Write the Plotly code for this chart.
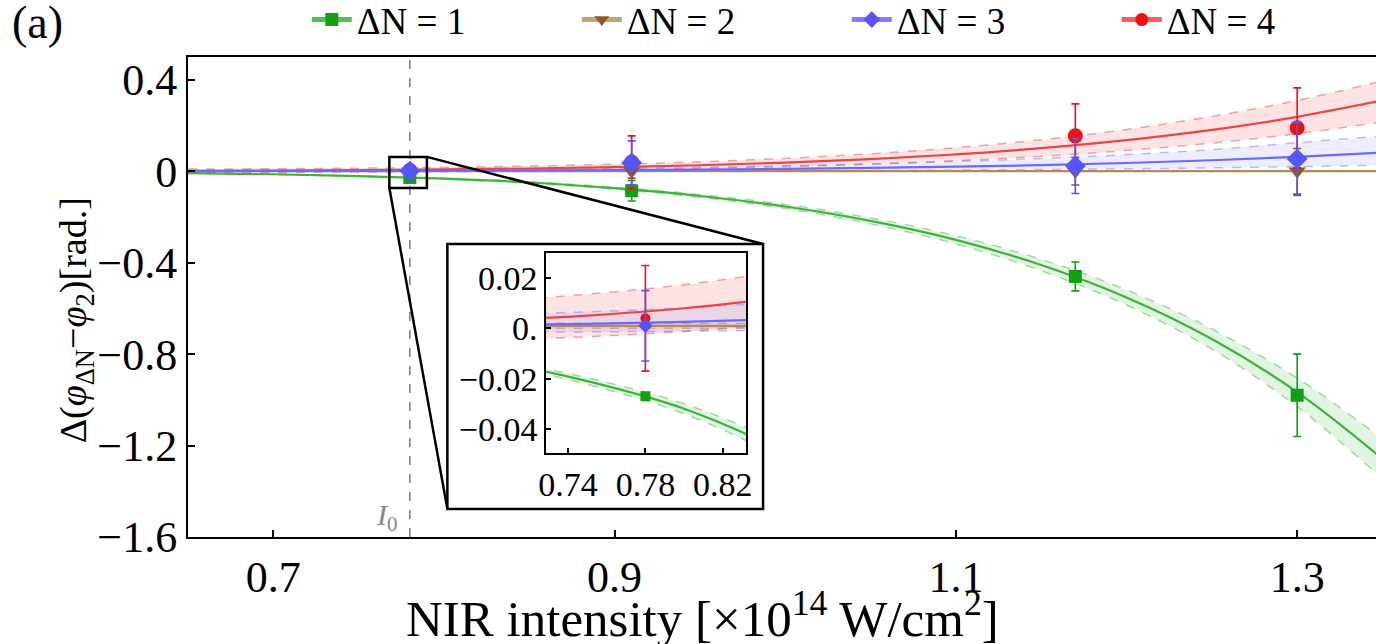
import plotly.graph_objects as go

# ---------------- data ----------------
x_fit = [0.65, 0.70, 0.75, 0.80, 0.85, 0.90, 0.95, 1.00, 1.05, 1.10, 1.15, 1.20, 1.25, 1.30, 1.35]

g_fit = [-0.008, -0.013, -0.021, -0.032, -0.049, -0.074, -0.108, -0.154, -0.217, -0.300, -0.410, -0.552, -0.734, -0.966, -1.258]
g_up  = [-0.0075, -0.0122, -0.0197, -0.030, -0.046, -0.0695, -0.1015, -0.145, -0.204, -0.282, -0.385, -0.519, -0.690, -0.905, -1.170]
g_lo  = [-0.0085, -0.0138, -0.0223, -0.034, -0.052, -0.0784, -0.1145, -0.163, -0.230, -0.318, -0.435, -0.585, -0.778, -1.030, -1.345]

b_fit = [0.001] * 15
b_up  = [0.002] * 15
b_lo  = [0.000] * 15

u_fit = [0.0010, 0.0013, 0.0018, 0.0026, 0.0037, 0.0053, 0.0075, 0.0105, 0.0146, 0.0200, 0.0271, 0.0363, 0.0482, 0.0633, 0.0822]
u_up  = [0.0050, 0.0056, 0.0066, 0.0082, 0.0104, 0.0136, 0.0180, 0.0240, 0.0322, 0.0430, 0.0560, 0.0730, 0.0950, 0.1250, 0.1550]
u_lo  = [-0.0017, -0.0015, -0.0014, -0.0011, -0.0007, -0.0001, 0.0006, 0.0017, 0.0031, 0.0050, 0.0075, 0.0107, 0.0149, 0.0202, 0.0268]

r_fit = [0.0019, 0.0031, 0.0051, 0.0080, 0.0122, 0.0182, 0.0265, 0.0380, 0.0535, 0.0740, 0.1010, 0.1360, 0.1810, 0.2380, 0.3100]
r_up  = [0.0095, 0.0110, 0.0136, 0.0174, 0.0229, 0.0307, 0.0415, 0.0564, 0.0766, 0.1030, 0.1380, 0.1830, 0.2400, 0.3100, 0.3950]
r_lo  = [-0.0056, -0.0048, -0.0033, -0.0012, 0.0018, 0.0061, 0.0121, 0.0204, 0.0315, 0.0463, 0.0657, 0.0910, 0.1233, 0.1644, 0.2162]

x_pts = [0.78, 0.91, 1.17, 1.30]
g_pts = [-0.027, -0.085, -0.460, -0.980]
g_err = [0.001, 0.045, 0.063, 0.180]
b_pts = [0.0, 0.0, 0.0, 0.0]
b_err = [0.0, 0.03, 0.06, 0.10]
u_pts = [0.001, 0.037, 0.023, 0.054]
u_err = [0.014, 0.096, 0.120, 0.160]
r_pts = [0.004, 0.040, 0.155, 0.190]
r_err = [0.021, 0.115, 0.140, 0.175]

labels = ["ΔN = 1", "ΔN = 2", "ΔN = 3", "ΔN = 4"]
I0 = 0.78

x_ticks = [0.7, 0.9, 1.1, 1.3]
y_ticks = [0.4, 0.0, -0.4, -0.8, -1.2, -1.6]
y_ticktext = ["0.4", "0", "−0.4", "−0.8", "−1.2", "−1.6"]
ix_ticks = [0.74, 0.78, 0.82]
iy_ticks = [0.02, 0.0, -0.02, -0.04]
iy_ticktext = ["0.02", "0.", "−0.02", "−0.04"]

# ---------------- styles ----------------
FONT = "Liberation Serif"
series = [
    dict(fit=g_fit, up=g_up, lo=g_lo, pts=g_pts, err=g_err, name=labels[0],
         mk="#12a012", line="#3cb43c", dash="rgba(60,180,60,0.45)", fill="rgba(60,180,60,0.15)",
         leg="#4cc44c", sym="square", size=13, isize=10),
    dict(fit=b_fit, up=b_up, lo=b_lo, pts=b_pts, err=b_err, name=labels[1],
         mk="#8b5a2b", line="#b58a5a", dash="rgba(170,120,70,0.45)", fill="rgba(170,120,70,0.12)",
         leg="#c8a078", sym="triangle-down", size=15, isize=9),
    dict(fit=r_fit, up=r_up, lo=r_lo, pts=r_pts, err=r_err, name=labels[3],
         mk="#ee1111", line="#e84545", dash="rgba(235,80,80,0.5)", fill="rgba(240,70,70,0.15)",
         leg="#f06060", sym="circle", size=15, isize=10),
    dict(fit=u_fit, up=u_up, lo=u_lo, pts=u_pts, err=u_err, name=labels[2],
         mk="#5555ff", line="#6a6aff", dash="rgba(110,110,255,0.45)", fill="rgba(110,110,255,0.12)",
         leg="#8080ff", sym="diamond", size=16, isize=11),
]

fig = go.Figure()

for ax, ay, inset in (("x", "y", False), ("x2", "y2", True)):
    for s in series:
        fig.add_trace(go.Scatter(x=x_fit, y=s["lo"], xaxis=ax, yaxis=ay, mode="lines",
                                 line=dict(color=s["dash"], width=1.5, dash="dash", shape="spline"),
                                 showlegend=False, hoverinfo="skip"))
        fig.add_trace(go.Scatter(x=x_fit, y=s["up"], xaxis=ax, yaxis=ay, mode="lines",
                                 line=dict(color=s["dash"], width=1.5, dash="dash", shape="spline"),
                                 fill="tonexty", fillcolor=s["fill"],
                                 showlegend=False, hoverinfo="skip"))
    for s in series:
        fig.add_trace(go.Scatter(x=x_fit, y=s["fit"], xaxis=ax, yaxis=ay, mode="lines",
                                 line=dict(color=s["line"], width=2.2, shape="spline"),
                                 showlegend=False, hoverinfo="skip"))
    for s in series:
        fig.add_trace(go.Scatter(x=x_pts, y=s["pts"], xaxis=ax, yaxis=ay, mode="markers",
                                 marker=dict(symbol=s["sym"], color=s["mk"],
                                             size=s["isize"] if inset else s["size"]),
                                 error_y=dict(type="data", array=s["err"], visible=True,
                                              color=s["mk"], thickness=1.6, width=4),
                                 showlegend=False))

# legend entries
for s in [series[0], series[1], series[3], series[2]]:
    fig.add_trace(go.Scatter(x=[None], y=[None], mode="lines+markers", name=s["name"],
                             line=dict(color=s["leg"], width=5),
                             marker=dict(symbol=s["sym"], color=s["mk"], size=13)))

# I0 line
fig.add_shape(type="line", xref="x", yref="paper", x0=I0, x1=I0, y0=0, y1=1,
              line=dict(color="#777777", width=1.5, dash="dash"), layer="below")
# zoom box, inset frame and connectors
fig.add_shape(type="rect", xref="x", yref="y", x0=0.768, x1=0.790, y0=-0.073, y1=0.063,
              line=dict(color="black", width=2.5), layer="above")
fig.add_shape(type="rect", xref="x", yref="y", x0=0.802, x1=0.987, y0=-1.477, y1=-0.318,
              line=dict(color="black", width=2.5), fillcolor="white", layer="below")
fig.add_shape(type="line", xref="x", yref="y", x0=0.790, y0=0.063, x1=0.987, y1=-0.318,
              line=dict(color="black", width=2.5), layer="above")
fig.add_shape(type="line", xref="x", yref="y", x0=0.768, y0=-0.073, x1=0.802, y1=-1.477,
              line=dict(color="black", width=2.5), layer="above")

axis_common = dict(showgrid=False, zeroline=False, showline=True, linecolor="black",
                   linewidth=2, mirror=True, ticks="inside", ticklen=7, tickcolor="black",
                   tickwidth=1.5, tickmode="array")
inset_axis = {**axis_common, "linewidth": 1.5, "ticklen": 5}

fig.update_layout(
    width=1376, height=644,
    margin=dict(l=188, r=0, t=57, b=107, autoexpand=False),
    paper_bgcolor="white", plot_bgcolor="white",
    font=dict(family=FONT, color="black", size=44),
    xaxis=dict(range=[0.65, 1.3462], tickvals=x_ticks, ticktext=[f"{v:.1f}" for v in x_ticks],
               tickfont=dict(size=44), **axis_common),
    yaxis=dict(range=[-1.6, 0.5], tickvals=y_ticks, ticktext=y_ticktext,
               tickfont=dict(size=44), **axis_common),
    xaxis2=dict(domain=[0.3013, 0.4697], anchor="y2", range=[0.7286, 0.832],
                tickvals=ix_ticks, ticktext=[f"{v:.2f}" for v in ix_ticks],
                tickfont=dict(size=34), **inset_axis),
    yaxis2=dict(domain=[0.175, 0.5917], anchor="x2", range=[-0.0496, 0.03],
                tickvals=iy_ticks, ticktext=iy_ticktext,
                tickfont=dict(size=34), **inset_axis),
    legend=dict(orientation="h", x=0.10, xanchor="left", y=1.077, yanchor="middle",
                font=dict(size=37), entrywidth=215, entrywidthmode="pixels",
                bgcolor="rgba(0,0,0,0)", itemwidth=40, traceorder="normal"),
    showlegend=True,
)

fig.add_annotation(text="NIR intensity [×10<sup>14</sup> W/cm<sup>2</sup>]", xref="paper", yref="paper",
                   x=0.4335, y=-0.233, showarrow=False, font=dict(size=51), xanchor="center", yanchor="bottom")
fig.add_annotation(text="Δ(<i>φ</i><sub>ΔN</sub>−<i>φ</i><sub>2</sub>)[rad.]", xref="paper", yref="paper",
                   x=-0.094, y=0.452, showarrow=False, textangle=-90, font=dict(size=38),
                   xanchor="center", yanchor="middle")
fig.add_annotation(text="(a)", xref="paper", yref="paper", x=-0.127, y=1.072, showarrow=False,
                   font=dict(size=46), xanchor="center", yanchor="middle")
fig.add_annotation(text="<i>I</i><sub>0</sub>", xref="paper", yref="paper", x=0.1675, y=0.042,
                   showarrow=False, font=dict(size=30, color="#888888"), xanchor="center", yanchor="middle")

fig.write_html("out.html")
